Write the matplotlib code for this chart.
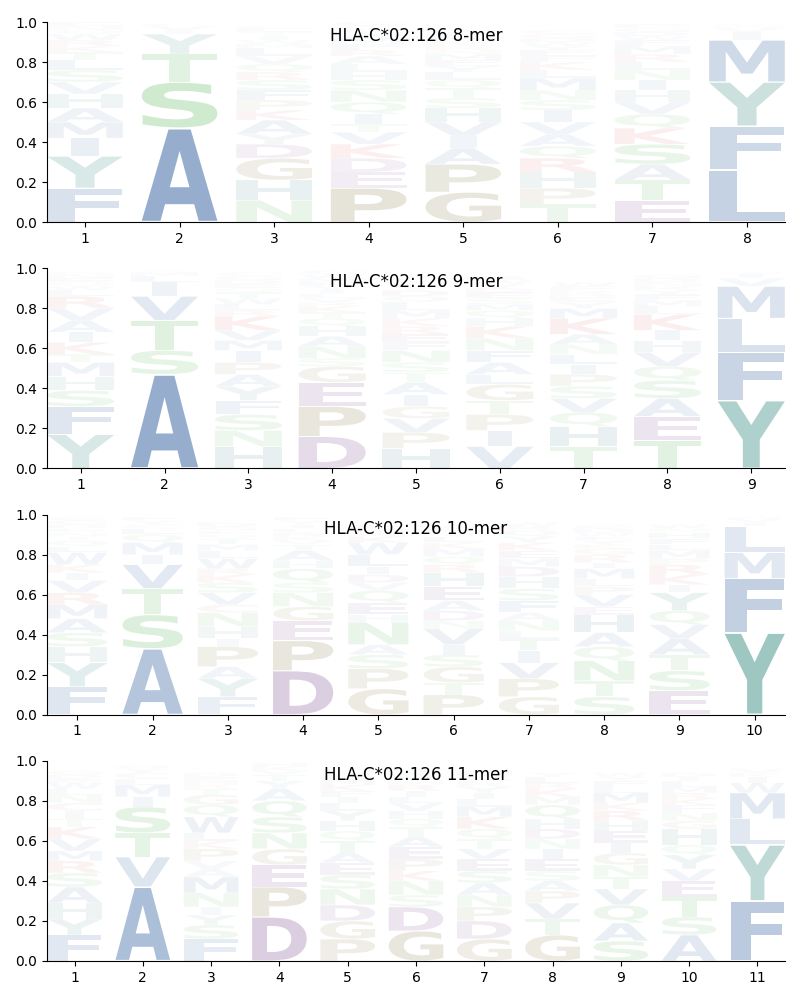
import matplotlib
matplotlib.use("Agg")
import matplotlib.pyplot as plt
from matplotlib.textpath import TextPath
from matplotlib.patches import PathPatch
from matplotlib.transforms import Affine2D
from matplotlib.font_manager import FontProperties

allele = "HLA-C*02:126"

# letter stacks per position, bottom to top (letter, height)
mer8 = [
    [("F", .17), ("Y", .16), ("I", .09), ("M", .08), ("A", .07), ("H", .07), ("V", .06), ("S", .06),
     ("L", .05), ("T", .04), ("K", .03), ("R", .03), ("W", .03), ("Q", .02), ("N", .02), ("E", .02)],
    [("A", .47), ("S", .23), ("T", .14), ("Y", .10), ("I", .02), ("V", .02), ("L", .01)],
    [("N", .11), ("H", .10), ("G", .11), ("D", .07), ("Y", .05), ("A", .07), ("K", .05), ("P", .05),
     ("F", .05), ("S", .05), ("R", .04), ("Q", .04), ("V", .04), ("L", .04), ("M", .02), ("W", .02),
     ("I", .02), ("T", .02), ("E", .02), ("C", .01)],
    [("P", .17), ("E", .08), ("D", .07), ("K", .07), ("V", .06), ("T", .04), ("I", .05), ("Q", .06),
     ("N", .06), ("S", .05), ("H", .04), ("L", .04), ("A", .04), ("R", .03), ("F", .03), ("M", .03),
     ("W", .02), ("Y", .02), ("C", .02), ("G", .02)],
    [("G", .15), ("P", .14), ("A", .08), ("I", .06), ("V", .07), ("H", .07), ("S", .05), ("T", .05),
     ("Q", .04), ("L", .04), ("Y", .03), ("E", .03), ("M", .03), ("N", .02), ("R", .02), ("K", .02),
     ("D", .02), ("F", .02), ("W", .02)],
    [("T", .09), ("P", .08), ("H", .08), ("R", .07), ("Q", .06), ("A", .06), ("V", .06), ("I", .06),
     ("S", .05), ("N", .05), ("M", .06), ("L", .04), ("K", .04), ("F", .03), ("E", .03), ("Y", .02),
     ("W", .02), ("D", .02), ("G", .02), ("C", .02)],
    [("E", .11), ("T", .10), ("A", .08), ("S", .10), ("K", .08), ("Q", .07), ("V", .06), ("H", .06),
     ("I", .05), ("N", .05), ("L", .04), ("R", .04), ("M", .04), ("F", .03), ("W", .02), ("D", .02),
     ("G", .02), ("P", .02)],
    [("L", .26), ("F", .22), ("Y", .22), ("M", .21), ("I", .04), ("V", .02), ("W", .01), ("C", .01)],
]

mer9 = [
    [("Y", .17), ("F", .14), ("S", .08), ("H", .07), ("M", .07), ("T", .04), ("K", .06), ("I", .05),
     ("A", .06), ("V", .06), ("R", .06), ("L", .03), ("W", .02), ("Q", .02), ("E", .02), ("N", .02),
     ("D", .01)],
    [("A", .47), ("S", .12), ("T", .15), ("V", .12), ("I", .07), ("L", .03), ("M", .02), ("Y", .01)],
    [("H", .11), ("N", .08), ("S", .08), ("F", .07), ("Y", .07), ("A", .06), ("P", .06), ("I", .06),
     ("M", .05), ("V", .05), ("K", .07), ("R", .03), ("L", .03), ("W", .03), ("T", .03), ("Q", .02),
     ("E", .02), ("D", .02), ("G", .02), ("C", .02)],
    [("D", .16), ("P", .15), ("E", .12), ("G", .08), ("S", .04), ("N", .06), ("A", .05), ("H", .05),
     ("Q", .04), ("T", .03), ("K", .03), ("R", .02), ("V", .02), ("L", .02), ("I", .02), ("Y", .02),
     ("F", .02), ("M", .02), ("W", .02), ("C", .02)],
    [("H", .10), ("P", .08), ("V", .07), ("G", .06), ("I", .06), ("A", .06), ("T", .05), ("S", .05),
     ("N", .06), ("F", .04), ("E", .04), ("R", .04), ("K", .04), ("M", .04), ("L", .04), ("Q", .03),
     ("D", .03), ("Y", .02), ("W", .02), ("C", .02)],
    [("V", .11), ("I", .08), ("P", .08), ("T", .07), ("G", .08), ("L", .05), ("A", .06), ("F", .06),
     ("N", .06), ("K", .06), ("H", .04), ("Q", .04), ("M", .03), ("S", .03), ("E", .03), ("D", .02),
     ("Y", .02), ("W", .02), ("R", .02)],
    [("T", .11), ("H", .10), ("Q", .07), ("V", .07), ("S", .06), ("P", .06), ("I", .05), ("L", .05),
     ("N", .05), ("A", .05), ("K", .08), ("M", .05), ("Y", .03), ("E", .02), ("D", .02), ("R", .02),
     ("F", .02), ("W", .02)],
    [("T", .14), ("E", .12), ("A", .09), ("S", .09), ("Q", .07), ("V", .07), ("H", .06), ("I", .05),
     ("K", .08), ("L", .04), ("M", .03), ("F", .03), ("Y", .02), ("R", .02), ("N", .02), ("D", .02),
     ("G", .02)],
    [("Y", .34), ("F", .24), ("L", .17), ("M", .16), ("V", .04), ("I", .02), ("W", .01)],
]

mer10 = [
    [("F", .14), ("Y", .12), ("H", .08), ("S", .07), ("A", .07), ("M", .07), ("R", .06), ("V", .06),
     ("I", .04), ("K", .04), ("W", .06), ("L", .03), ("Q", .03), ("T", .02), ("N", .02), ("E", .02),
     ("D", .02), ("G", .02), ("C", .02)],
    [("A", .33), ("S", .17), ("T", .13), ("V", .12), ("I", .05), ("M", .06), ("Q", .04), ("L", .03),
     ("C", .02), ("Y", .02), ("F", .02)],
    [("F", .09), ("Y", .09), ("A", .06), ("P", .10), ("I", .04), ("H", .06), ("N", .07), ("C", .04),
     ("V", .06), ("S", .05), ("K", .04), ("R", .03), ("W", .05), ("L", .04), ("M", .03), ("T", .03),
     ("Q", .02), ("E", .02), ("G", .02), ("D", .02)],
    [("D", .22), ("P", .15), ("E", .10), ("G", .07), ("N", .07), ("S", .05), ("Q", .07), ("H", .04),
     ("A", .05), ("T", .03), ("V", .02), ("K", .02), ("R", .02), ("L", .02), ("I", .02), ("Y", .02),
     ("F", .02)],
    [("G", .13), ("P", .10), ("S", .07), ("A", .05), ("N", .11), ("H", .04), ("E", .06), ("Q", .06),
     ("V", .04), ("D", .04), ("I", .04), ("L", .06), ("W", .06), ("K", .03), ("R", .02), ("M", .02),
     ("F", .02)],
    [("P", .10), ("T", .06), ("G", .08), ("S", .06), ("I", .05), ("V", .08), ("N", .04), ("D", .05),
     ("A", .05), ("E", .07), ("H", .07), ("R", .04), ("Q", .04), ("M", .04), ("K", .03), ("L", .03),
     ("Y", .02), ("F", .02), ("W", .02)],
    [("G", .09), ("P", .09), ("V", .08), ("I", .06), ("T", .06), ("L", .04), ("N", .05), ("A", .04),
     ("F", .06), ("S", .06), ("H", .06), ("D", .05), ("M", .04), ("E", .04), ("K", .04), ("Y", .03),
     ("Q", .03), ("R", .02), ("W", .02)],
    [("S", .09), ("T", .08), ("N", .10), ("Q", .07), ("A", .07), ("H", .09), ("E", .04), ("V", .06),
     ("P", .04), ("L", .04), ("M", .05), ("I", .03), ("R", .04), ("G", .03), ("K", .02), ("Y", .02),
     ("F", .02), ("W", .02), ("D", .02), ("C", .02)],
    [("E", .12), ("S", .10), ("T", .08), ("A", .08), ("V", .07), ("Q", .07), ("Y", .09), ("I", .04),
     ("K", .05), ("R", .05), ("P", .03), ("M", .04), ("L", .03), ("F", .03), ("H", .03), ("N", .02),
     ("W", .02)],
    [("Y", .41), ("F", .27), ("M", .13), ("L", .13), ("I", .02), ("V", .02), ("W", .01)],
]

mer11 = [
    [("F", .13), ("Y", .08), ("H", .08), ("A", .08), ("S", .07), ("R", .06), ("M", .05), ("V", .06),
     ("K", .06), ("T", .04), ("I", .04), ("C", .04), ("N", .04), ("L", .03), ("W", .03), ("E", .02),
     ("D", .02), ("G", .02)],
    [("A", .37), ("V", .15), ("T", .12), ("S", .13), ("I", .05), ("M", .06), ("L", .03), ("C", .03),
     ("Y", .02), ("Q", .02)],
    [("F", .11), ("S", .07), ("Y", .05), ("I", .04), ("N", .07), ("M", .08), ("A", .04), ("V", .04),
     ("P", .06), ("K", .04), ("L", .04), ("W", .08), ("Q", .06), ("G", .05), ("T", .03), ("R", .02),
     ("H", .02), ("E", .02), ("D", .02)],
    [("D", .22), ("P", .15), ("E", .11), ("G", .08), ("N", .08), ("S", .08), ("Q", .08), ("A", .06),
     ("Y", .04), ("T", .03), ("V", .02), ("K", .02), ("H", .02)],
    [("P", .11), ("G", .09), ("D", .08), ("N", .08), ("S", .07), ("E", .06), ("A", .05), ("T", .06),
     ("Q", .05), ("H", .05), ("Y", .05), ("L", .04), ("I", .03), ("F", .03), ("K", .03), ("M", .03),
     ("R", .02), ("W", .02)],
    [("G", .15), ("D", .12), ("S", .06), ("N", .07), ("K", .05), ("P", .06), ("E", .06), ("A", .05),
     ("T", .05), ("Q", .04), ("H", .04), ("V", .04), ("L", .03), ("I", .03), ("R", .03), ("M", .02),
     ("Y", .02), ("F", .02), ("W", .02)],
    [("G", .11), ("D", .09), ("P", .07), ("N", .06), ("A", .06), ("S", .06), ("E", .06), ("V", .05),
     ("T", .05), ("Q", .05), ("K", .06), ("M", .05), ("L", .04), ("I", .03), ("Y", .03), ("R", .02),
     ("F", .02), ("W", .02), ("H", .02)],
    [("G", .13), ("T", .08), ("V", .08), ("P", .06), ("A", .05), ("S", .05), ("E", .06), ("I", .05),
     ("N", .05), ("D", .05), ("H", .05), ("Q", .07), ("M", .04), ("K", .04), ("R", .03), ("L", .03),
     ("Y", .02)],
    [("S", .10), ("A", .09), ("Q", .09), ("V", .08), ("T", .06), ("N", .06), ("G", .06), ("I", .05),
     ("E", .06), ("H", .05), ("R", .05), ("K", .04), ("M", .05), ("L", .03), ("F", .03), ("Y", .02),
     ("W", .02)],
    [("A", .13), ("S", .09), ("T", .10), ("E", .08), ("V", .06), ("Y", .07), ("Q", .05), ("H", .08),
     ("G", .04), ("N", .04), ("F", .04), ("K", .03), ("R", .03), ("M", .03), ("L", .03), ("I", .02),
     ("D", .02)],
    [("F", .30), ("Y", .28), ("L", .13), ("M", .13), ("W", .05), ("I", .03), ("K", .02), ("V", .02)],
]

logos = [("8-mer", mer8), ("9-mer", mer9), ("10-mer", mer10), ("11-mer", mer11)]

# colour groups
blue = (32/255, 82/255, 150/255)
colors = {}
for c in "AFLMVIW":
    colors[c] = blue
for c in "STNQ":
    colors[c] = (50/255, 165/255, 50/255)
for c in "GP":
    colors[c] = (110/255, 100/255, 30/255)
for c in "DE":
    colors[c] = (100/255, 35/255, 120/255)
for c in "KR":
    colors[c] = (200/255, 40/255, 40/255)
colors["Y"] = (23/255, 121/255, 109/255)
colors["H"] = (40/255, 110/255, 120/255)
colors["C"] = (170/255, 70/255, 120/255)

fp = FontProperties(family="DejaVu Sans", weight="bold")
e_width = TextPath((0, 0), "E", size=1, prop=fp).get_extents().width


def draw_letter(ax, ch, x, y0, h, width=0.8, vpad=0.03):
    tp = TextPath((0, 0), ch, size=1, prop=fp)
    bb = tp.get_extents()
    sx = min(width / bb.width, width / e_width)
    hh = h * (1 - vpad)
    sy = hh / bb.height
    tr = (Affine2D().translate(-bb.xmin, -bb.ymin).scale(sx, sy)
          .translate(x - sx * bb.width / 2, y0 + h * vpad / 2))
    patch = PathPatch(tr.transform_path(tp), facecolor=colors[ch], edgecolor="none",
                      alpha=min(1.0, h))
    ax.add_patch(patch)


fig, axes = plt.subplots(4, 1, figsize=(8, 10), dpi=100)
plt.subplots_adjust(left=0.059, right=0.981, top=0.978, bottom=0.039, hspace=0.23)

for ax, (name, mat) in zip(axes, logos):
    n = len(mat)
    for i, stack in enumerate(mat):
        y = 0.0
        for ch, h in stack:
            draw_letter(ax, ch, i + 1, y, h)
            y += h
    ax.set_xlim(0.6, n + 0.4)
    ax.set_ylim(0, 1)
    ax.set_xticks(range(1, n + 1))
    ax.set_yticks([0, 0.2, 0.4, 0.6, 0.8, 1.0])
    ax.spines["top"].set_visible(False)
    ax.spines["right"].set_visible(False)
    ax.text(0.5, 0.93, allele + " " + name, transform=ax.transAxes,
            ha="center", va="center", fontsize=12)

fig.savefig("out.png")
